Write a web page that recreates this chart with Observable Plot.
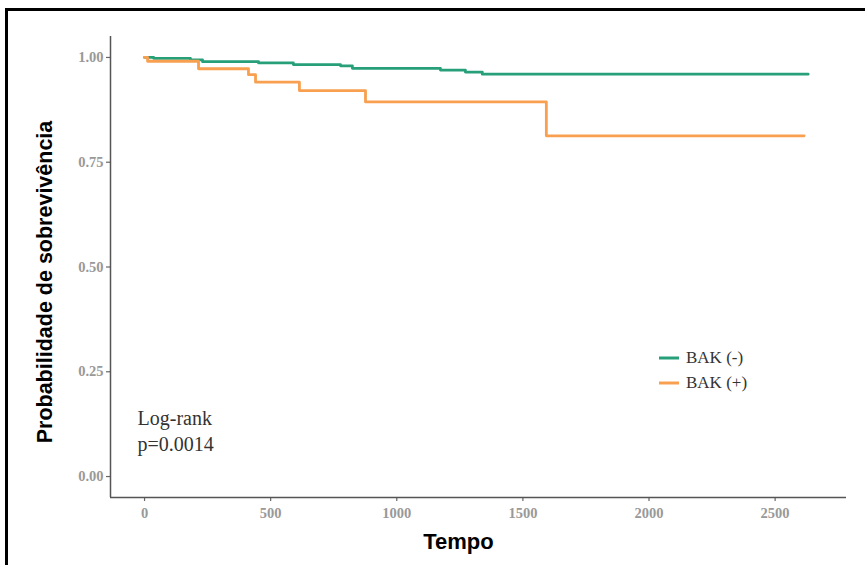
<!DOCTYPE html>
<html>
<head>
<meta charset="utf-8">
<script src="https://cdn.jsdelivr.net/npm/d3@7"></script>
<script src="https://cdn.jsdelivr.net/npm/@observablehq/plot@0.6"></script>
<style>
  body { margin: 0; background: #fff; }
  #wrap { position: relative; width: 865px; height: 565px; overflow: hidden; background: #fff; }
  #chart { position: absolute; left: 0; top: 0; }
  #frame { position: absolute; left: 5px; top: 8px; width: 900px; height: 600px;
           border-top: 3px solid #000; border-left: 3px solid #000; pointer-events: none; }
  #legend { position: absolute; left: 658px; top: 345px; font-family: "Liberation Serif", serif;
            font-size: 17px; color: #333; }
  #legend .item { display: flex; align-items: center; height: 25px; }
  #legend svg { margin-right: 6px; }
</style>
</head>
<body>
<div id="wrap">
  <div id="chart"></div>
  <div id="legend"></div>
  <div id="frame"></div>
</div>
<script>
// ---- data ----
const groups = ["BAK (-)", "BAK (+)"];
const groupColors = ["#27a07a", "#f8a050"];

const timeNeg = [0, 36, 182, 230, 452, 590, 777, 824, 1173, 1272, 1339, 2631];
const survNeg = [1.000, 0.998, 0.994, 0.990, 0.987, 0.983, 0.980, 0.974, 0.970, 0.965, 0.960, 0.960];

const timePos = [0, 12, 214, 412, 440, 614, 876, 1593, 2615];
const survPos = [1.000, 0.991, 0.973, 0.959, 0.941, 0.921, 0.894, 0.813, 0.813];

const xTicks = [0, 500, 1000, 1500, 2000, 2500];
const yTicks = [0, 0.25, 0.5, 0.75, 1];

const xTitle = "Tempo";
const yTitle = "Probabilidade de sobrevivência";
const annotation = "Log-rank\np=0.0014";

// ---- build table ----
const rows = [
  ...timeNeg.map((t, i) => ({time: t, surv: survNeg[i], group: groups[0]})),
  ...timePos.map((t, i) => ({time: t, surv: survPos[i], group: groups[1]}))
];

const xDomain = [-135, 2783];
const yDomain = [-0.05, 1.05];

const chart = Plot.plot({
  width: 865,
  height: 565,
  marginLeft: 110,
  marginRight: 19,
  marginTop: 36,
  marginBottom: 68,
  style: {background: "transparent", overflow: "visible"},
  x: {domain: xDomain},
  y: {domain: yDomain},
  color: {domain: groups, range: groupColors},
  marks: [
    Plot.axisX(xTicks, {tickSize: 4, tickPadding: 6, stroke: "#666", strokeWidth: 1.2,
      fill: "#999", fontSize: 14.5, fontWeight: "bold", fontFamily: "Liberation Serif", label: null,
      tickFormat: d3.format("d")}),
    Plot.axisY(yTicks, {tickSize: 4, tickPadding: 3, stroke: "#666", strokeWidth: 1.2,
      fill: "#999", fontSize: 14.5, fontWeight: "bold", fontFamily: "Liberation Serif", label: null,
      tickFormat: d3.format(".2f")}),
    Plot.ruleX([xDomain[0]], {stroke: "#555", strokeWidth: 1.5}),
    Plot.ruleY([yDomain[0]], {stroke: "#555", strokeWidth: 1.5}),
    Plot.line(rows, {x: "time", y: "surv", z: "group", stroke: "group",
      curve: "step-after", strokeWidth: 2.8}),
    Plot.text([xTitle], {frameAnchor: "bottom", dx: -20, dy: 44, lineAnchor: "middle",
      textAnchor: "middle", fontSize: 22, fontWeight: "bold", fontFamily: "Liberation Sans", fill: "#000"}),
    Plot.text([yTitle], {frameAnchor: "left", rotate: -90, dx: -65, dy: 15, lineAnchor: "middle",
      textAnchor: "middle", fontSize: 21.5, fontWeight: "bold", fontFamily: "Liberation Sans", fill: "#000"}),
    Plot.text([annotation], {frameAnchor: "bottom-left", dx: 27, dy: -68, lineAnchor: "middle",
      textAnchor: "start", lineHeight: 1.3, fontSize: 20, fontFamily: "Liberation Serif", fill: "#333"})
  ]
});
document.getElementById("chart").appendChild(chart);

// ---- legend ----
const legend = document.getElementById("legend");
groups.forEach((g, i) => {
  const item = document.createElement("div");
  item.className = "item";
  item.innerHTML = `<svg width="22" height="6"><line x1="1" x2="21" y1="3" y2="3" stroke="${groupColors[i]}" stroke-width="3"/></svg><span>${g}</span>`;
  legend.appendChild(item);
});
</script>
</body>
</html>
